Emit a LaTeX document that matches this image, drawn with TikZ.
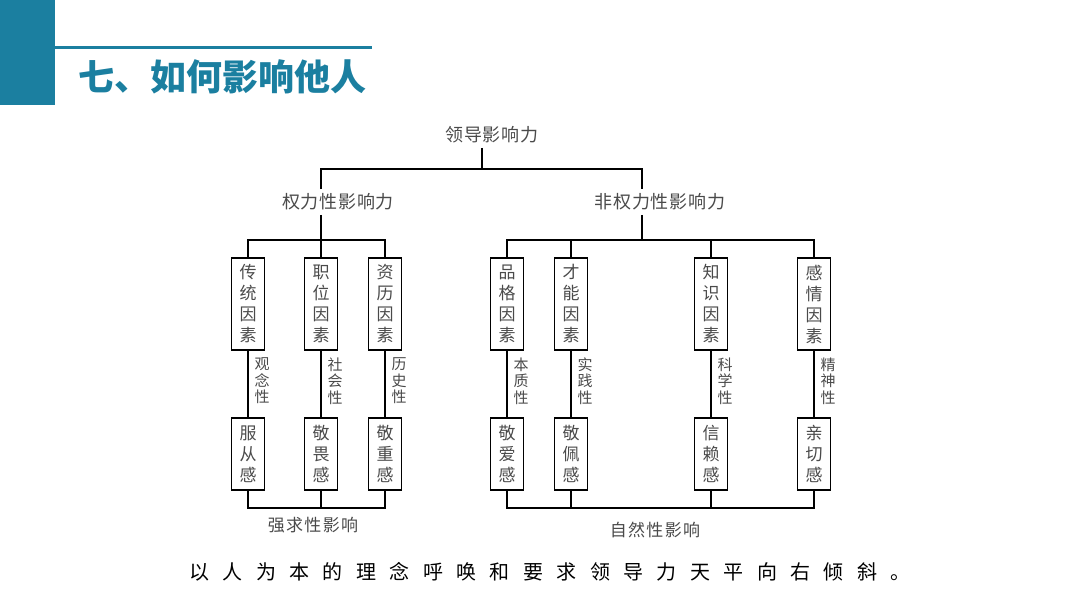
\documentclass[tikz,border=0pt]{standalone}
\usepackage{fontspec}
\setmainfont{Noto Sans CJK SC}
\definecolor{teal1}{HTML}{1B7FA0}
\definecolor{txt}{HTML}{4A4A4A}
\begin{document}
\begin{tikzpicture}[x=1pt,y=-1pt,line width=1.2pt,
  fbox/.style={draw,line width=1.3pt,minimum width=33pt,inner sep=0pt,align=center,text=txt,font=\fontsize{17}{21}\selectfont},
  upbox/.style={fbox,minimum height=92pt},
  lowbox/.style={fbox,minimum height=72pt},
  side/.style={align=center,text=txt,inner sep=0pt,font=\fontsize{15}{16.5}\selectfont},
  lvl/.style={text=txt,inner xsep=0pt,inner ysep=4pt,font=\fontsize{18}{20}\selectfont\addfontfeature{LetterSpace=4}},
  lab/.style={text=txt,inner sep=0pt,font=\fontsize{17}{20}\selectfont\addfontfeature{LetterSpace=8}}]
\useasboundingbox (0,0) rectangle (1080,608);
% header
\fill[teal1] (0,0) rectangle (55,105);
\draw[teal1,line width=3pt] (55,47) -- (372,47);
\node[anchor=west,text=teal1,inner sep=0pt,font=\fontsize{36}{38}\selectfont\bfseries] (title) at (78,77) {七、如何影响他人};
% level nodes
\node[lvl] (root) at (492,135) {领导影响力};
\node[lvl] (pw) at (338,202) {权力性影响力};
\node[lvl] (npw) at (660,202) {非权力性影响力};
\coordinate (busA) at (482,169);
\coordinate (pwx) at (321,169);
\coordinate (npwx) at (642,169);
\draw (root.south -| busA) -- (busA);
\draw (pw.north -| pwx) -- (pwx) -- (npwx) -- (npw.north -| npwx);
% left group
\node[upbox] (u1) at (248,304) {传\\统\\因\\素};
\node[upbox] (u2) at (321,304) {职\\位\\因\\素};
\node[upbox] (u3) at (385,304) {资\\历\\因\\素};
\node[lowbox] (l1) at (248,454) {服\\从\\感};
\node[lowbox] (l2) at (321,454) {敬\\畏\\感};
\node[lowbox] (l3) at (385,454) {敬\\重\\感};
\node[side] (s1) at (262,381) {观\\念\\性};
\node[side] (s2) at (335,381) {社\\会\\性};
\node[side] (s3) at (399,381) {历\\史\\性};
\draw (u1) -- (l1);
\draw (u2) -- (l2);
\draw (u3) -- (l3);
\coordinate (tA) at (321,240);
\coordinate (bA) at (321,508);
\draw (pw.south -| tA) -- (tA);
\draw (u1.north) |- (tA) -| (u3.north);
\draw (u2.north) -- (tA);
\draw (l1.south) |- (bA) -| (l3.south);
\draw (l2.south) -- (bA);
\node[lab] (labA) at (313,525) {强求性影响};
% right group
\node[upbox] (v1) at (507,304) {品\\格\\因\\素};
\node[upbox] (v2) at (571,304) {才\\能\\因\\素};
\node[upbox] (v3) at (711,304) {知\\识\\因\\素};
\node[upbox] (v4) at (814,304) {感\\情\\因\\素};
\node[lowbox] (w1) at (507,454) {敬\\爱\\感};
\node[lowbox] (w2) at (571,454) {敬\\佩\\感};
\node[lowbox] (w3) at (711,454) {信\\赖\\感};
\node[lowbox] (w4) at (814,454) {亲\\切\\感};
\node[side] (t1) at (521,381) {本\\质\\性};
\node[side] (t2) at (585,381) {实\\践\\性};
\node[side] (t3) at (725,381) {科\\学\\性};
\node[side] (t4) at (828,381) {精\\神\\性};
\draw (v1) -- (w1);
\draw (v2) -- (w2);
\draw (v3) -- (w3);
\draw (v4) -- (w4);
\coordinate (tB) at (642,240);
\coordinate (bB) at (642,508);
\draw (npw.south -| tB) -- (tB);
\draw (v1.north) |- (tB) -| (v4.north);
\draw (v2.north) -- (v2.north |- tB);
\draw (v3.north) -- (v3.north |- tB);
\draw (w1.south) |- (bB) -| (w4.south);
\draw (w2.south) -- (w2.south |- bB);
\draw (w3.south) -- (w3.south |- bB);
\node[lab] (labB) at (655,530) {自然性影响};
% bottom sentence
\node[inner sep=0pt,text=black,font=\fontsize{20}{22}\selectfont\addfontfeature{LetterSpace=67}] (note) at (550,572) {以人为本的理念呼唤和要求领导力天平向右倾斜。};
\end{tikzpicture}
\end{document}
